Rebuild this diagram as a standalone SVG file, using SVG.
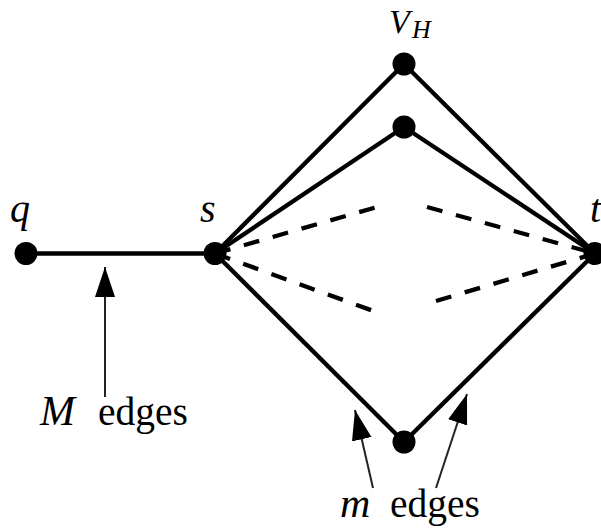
<svg xmlns="http://www.w3.org/2000/svg" width="601" height="531" viewBox="0 0 601 531">
<style>
.e{stroke:#000;stroke-width:4.3;fill:none}
.d{stroke:#000;stroke-width:4.3;fill:none;stroke-dasharray:16 14}
.a{stroke:#222;stroke-width:2;fill:none}
.n{fill:#000}
.t{font-family:"Liberation Serif","DejaVu Serif",serif;fill:#000}
.i{font-style:italic}
</style>
<defs>
<marker id="ah" markerUnits="userSpaceOnUse" markerWidth="31" markerHeight="21" refX="30" refY="10" orient="auto" viewBox="0 0 31 21">
<path d="M0,0 L30,10 L0,20 z" fill="#000"/>
</marker>
</defs>
<g id="connectors">
<line class="e" x1="26" y1="253.5" x2="215" y2="253.5"/>
<line class="e" x1="215" y1="253.5" x2="404" y2="64"/>
<line class="e" x1="404" y1="64" x2="595" y2="253.5"/>
<line class="e" x1="215" y1="253.5" x2="404" y2="127"/>
<line class="e" x1="404" y1="127" x2="595" y2="253.5"/>
<line class="e" x1="215" y1="253.5" x2="404" y2="442"/>
<line class="e" x1="404" y1="442" x2="595" y2="253.5"/>
<line class="d" x1="215" y1="253.5" x2="384" y2="205"/>
<line class="d" x1="427" y1="207" x2="595" y2="253.5"/>
<line class="d" x1="215" y1="253.5" x2="379" y2="313"/>
<line class="d" x1="595" y1="253.5" x2="436" y2="301"/>
<line class="a" x1="105" y1="397" x2="105" y2="267" marker-end="url(#ah)"/>
<line class="a" x1="373" y1="488" x2="355" y2="410" marker-end="url(#ah)"/>
<line class="a" x1="436" y1="488" x2="467" y2="394" marker-end="url(#ah)"/>
</g>
<g id="node-q"><circle class="n" cx="26" cy="253.5" r="11.5"/><text class="t i" x="10" y="222" font-size="40">q</text></g>
<g id="node-s"><circle class="n" cx="215" cy="253.5" r="11.5"/><text class="t i" x="200" y="222" font-size="40">s</text></g>
<g id="node-t"><circle class="n" cx="595" cy="253.5" r="11.5"/><text class="t i" x="590" y="222" font-size="40">t</text></g>
<g id="node-vh"><circle class="n" cx="404" cy="64" r="11.5"/><text class="t i" x="389" y="33" font-size="34">V</text><text class="t i" x="412" y="38" font-size="26">H</text></g>
<g id="node-h2"><circle class="n" cx="404" cy="127" r="11.5"/></g>
<g id="node-b"><circle class="n" cx="404" cy="442" r="11.5"/></g>
<g id="label-M"><text class="t i" x="40" y="425" font-size="42">M</text><text class="t" x="98" y="425" font-size="39.5">edges</text></g>
<g id="label-m"><text class="t i" x="340" y="517" font-size="42">m</text><text class="t" x="390" y="517" font-size="39.5">edges</text></g>
</svg>
